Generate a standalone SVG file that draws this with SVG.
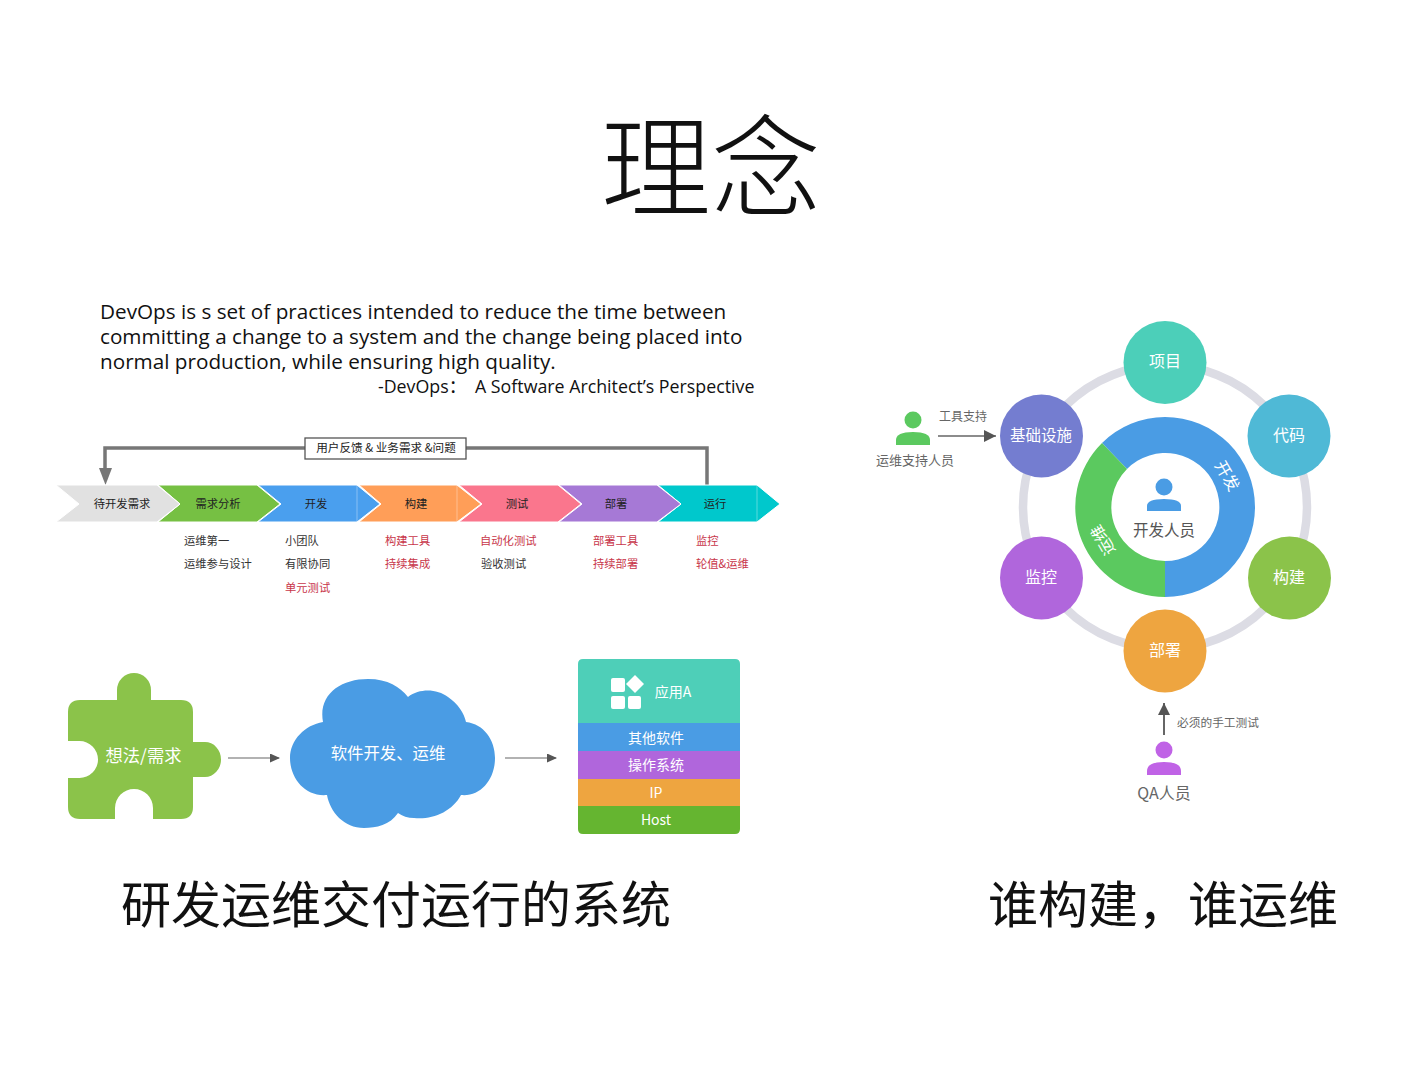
<svg xmlns="http://www.w3.org/2000/svg" width="1422" height="1067" viewBox="0 0 1422 1067">
<style>
text{font-family:"Noto Sans CJK SC","Noto Sans",sans-serif;text-anchor:middle}
.en{font-family:"Open Sans","Noto Sans CJK SC",sans-serif;text-anchor:start;font-size:20.7px;fill:#111}
.ttl{font-size:50px;fill:#111}
.lb{font-size:11.300px;fill:#222}
.s{font-size:11.300px;fill:#333;text-anchor:start}
.r{font-size:11.300px;fill:#c8364a;text-anchor:start}
.w{fill:#fff;font-size:16px}
.g{fill:#666;font-size:13px}
.conn{fill:none;stroke:#666;stroke-width:1.200}
.ch{stroke:#fff;stroke-width:1}
.tip{stroke:#fff;stroke-opacity:.35;stroke-width:1;fill:none}
</style>
<defs>
<marker id="ah" markerWidth="11" markerHeight="11" refX="9" refY="4.5" orient="auto" markerUnits="userSpaceOnUse"><path d="M0 0L10 4.500L0 9z" fill="#555"/></marker>
<marker id="ah2" markerWidth="13" markerHeight="13" refX="12" refY="6" orient="auto" markerUnits="userSpaceOnUse"><path d="M0 0L12 6L0 12z" fill="#555"/></marker>
</defs>
<rect width="1422" height="1067" fill="#fff"/>
<text x="711" y="208" font-size="110" fill="#111" style="font-weight:300">理念</text>
<g id="quote">
<text class="en" x="100" y="319">DevOps is s set of practices intended to reduce the time between</text>
<text class="en" x="100" y="344">committing a change to a system and the change being placed into</text>
<text class="en" x="100" y="369">normal production, while ensuring high quality.</text>
<text class="en" x="378" y="393" style="font-size:17.800px">-DevOps：<tspan x="475">A Software Architect’s Perspective</tspan></text>
</g>
<g id="feedback-connector">
<path d="M707 485V448H105V470" fill="none" stroke="#777" stroke-width="3.500"/>
<path d="M99 468H112L105.500 485z" fill="#777"/>
</g>
<g id="feedback"><rect x="305" y="438" width="161" height="21" fill="#fff" stroke="#555" stroke-width="1.300"/><text class="lb" x="386" y="452" style="font-size:11.600px">用户反馈 &amp; 业务需求 &amp;问题</text></g>
<g id="pipeline">
<path class="ch" d="M658 485H757L780 504L757 522H658L681 504z" fill="#00c8cc"/>
<path class="ch" d="M559 485H657L681 504L657 522H559L582 504z" fill="#a679d6"/>
<path class="ch" d="M459 485H558L581 504L558 522H459L482 504z" fill="#fa768d"/>
<path class="ch" d="M359 485H457L481 504L457 522H359L381 504z" fill="#ff9e58"/>
<path class="ch" d="M258 485H357L380 504L357 522H258L281 504z" fill="#4a9fee"/>
<path class="ch" d="M158 485H257L280 504L257 522H158L180 504z" fill="#76c043"/>
<path class="ch" d="M56 485H157L180 504L157 522H56L79 504z" fill="#e1e1e1"/>
<path class="tip" d="M357 485V522M457 485V522M757 485V522"/>
<text class="lb" x="122" y="508">待开发需求</text>
<text class="lb" x="218" y="508">需求分析</text>
<text class="lb" x="316" y="508">开发</text>
<text class="lb" x="416" y="508">构建</text>
<text class="lb" x="517" y="508">测试</text>
<text class="lb" x="616" y="508">部署</text>
<text class="lb" x="715" y="508">运行</text>
</g>
<g id="pipeline-notes">
<text class="s" x="184" y="545">运维第一</text><text class="s" x="184" y="568">运维参与设计</text>
<text class="s" x="285" y="545">小团队</text><text class="s" x="285" y="568">有限协同</text><text class="r" x="285" y="592">单元测试</text>
<text class="r" x="385" y="545">构建工具</text><text class="r" x="385" y="568">持续集成</text>
<text class="r" x="480" y="545">自动化测试</text><text class="s" x="481" y="568">验收测试</text>
<text class="r" x="593" y="545">部署工具</text><text class="r" x="593" y="568">持续部署</text>
<text class="r" x="696" y="545">监控</text><text class="r" x="696" y="568">轮值&amp;运维</text>
</g>
<g id="puzzle">
<path d="M80 700H117V690A17 17 0 0 1 151 690V700H181Q193 700 193 712V742H205A16 17.500 0 0 1 205 777H193V807Q193 819 181 819H153V808A19 19 0 0 0 115 808V819H80Q68 819 68 807V778H79.500A18.500 18.500 0 0 0 79.500 741H68V712Q68 700 80 700z" fill="#8bc34a"/>
<text class="w" x="143.500" y="762" style="font-size:17.300px">想法/需求</text>
</g>
<g id="cloud">
<path d="M323 722C318 695 340 679 368 679C388 679 400 687 408 697C420 688 437 689 448 697C458 704 464 713 466 722C484 724 495 740 495 758C495 780 480 797 461 795C452 812 432 820 414 818C408 818 402 816 398 813C390 825 376 828 364 828C344 828 330 812 327 795C305 797 290 778 290 758C290 740 305 725 323 722z" fill="#4a9ce4"/>
<text class="w" x="388" y="759" style="font-size:16.400px">软件开发、运维</text>
</g>
<g id="stack">
<path d="M578 723V664Q578 659 583 659H735Q740 659 740 664V723z" fill="#4ecfb8"/>
<rect x="578" y="723" width="162" height="28" fill="#4a9ce4"/>
<rect x="578" y="751" width="162" height="28" fill="#b066dc"/>
<rect x="578" y="779" width="162" height="27" fill="#eea540"/>
<path d="M578 806H740V829Q740 834 735 834H583Q578 834 578 829z" fill="#65b530"/>
<g fill="#fff"><rect x="611" y="678" width="14" height="14" rx="2"/><rect x="611" y="696" width="14" height="13" rx="2"/><rect x="628" y="696" width="13" height="13" rx="2"/><path d="M635 675L644 684L635 693L626 684z"/></g>
<text class="w" x="673" y="697" style="font-size:14px">应用A</text>
<text class="w" x="656" y="743" style="font-size:14px">其他软件</text>
<text class="w" x="656" y="770" style="font-size:14px">操作系统</text>
<text class="w" x="656" y="798" style="font-size:14px">IP</text>
<text class="w" x="656" y="825" style="font-size:14px">Host</text>
</g>
<g id="connectors">
<path class="conn" d="M228 758H279" marker-end="url(#ah)"/>
<path class="conn" d="M505 758H556" marker-end="url(#ah)"/>
<path class="conn" d="M938 436H996" style="stroke-width:1.500" marker-end="url(#ah2)"/>
<path class="conn" d="M1164 735V703" style="stroke-width:2" marker-end="url(#ah2)"/>
</g>
<text class="ttl" x="396" y="923">研发运维交付运行的系统</text>
<text class="ttl" x="1163" y="923">谁构建，谁运维</text>
<circle id="ring" cx="1165" cy="507" r="142" fill="none" stroke="#dcdce4" stroke-width="8.500"/>
<g id="donut">
<circle cx="1165" cy="507" r="72" fill="#fff"/>
<path d="M1165 417A90 90 0 1 1 1165 597V561A54 54 0 1 0 1127 469L1102 443A90 90 0 0 1 1165 417z" fill="#4a9ce4"/>
<path d="M1102 443L1127 469A54 54 0 0 0 1165 561V597A90 90 0 0 1 1102 443z" fill="#5bc95f"/>
<text class="w" transform="translate(1227 476) rotate(60)" y="5.500" style="font-size:16px">开发</text>
<text class="w" transform="translate(1103 540) rotate(-120)" y="5.500" style="font-size:16px">运维</text>
<circle cx="1164" cy="487" r="8.500" fill="#4a9ce4"/><path d="M1147 511V506Q1147 499 1164 499Q1181 499 1181 506V511z" fill="#4a9ce4"/>
<text x="1164" y="536" fill="#555" font-size="15.500">开发人员</text>
</g>
<g id="n-project"><circle cx="1165" cy="362.500" r="41.500" fill="#4ccfb9"/><text class="w" x="1165" y="367">项目</text></g>
<g id="n-code"><circle cx="1289" cy="436" r="41.500" fill="#4fb9d6"/><text class="w" x="1289" y="441">代码</text></g>
<g id="n-build"><circle cx="1289.500" cy="578" r="41.500" fill="#8bc34a"/><text class="w" x="1289" y="583">构建</text></g>
<g id="n-deploy"><circle cx="1165" cy="651" r="41.500" fill="#eea540"/><text class="w" x="1165" y="656">部署</text></g>
<g id="n-monitor"><circle cx="1041.500" cy="578" r="41.500" fill="#b066dc"/><text class="w" x="1041" y="583">监控</text></g>
<g id="n-infra"><circle cx="1041.500" cy="436" r="41.500" fill="#747dd0"/><text class="w" x="1041" y="441" style="font-size:15.500px">基础设施</text></g>
<g id="ops-person"><circle cx="913" cy="420" r="8.500" fill="#5bc95f"/><path d="M896 445V440Q896 432 913 432Q930 432 930 440V445z" fill="#5bc95f"/><text class="g" x="915" y="465">运维支持人员</text><text class="g" x="963" y="421" style="font-size:12px">工具支持</text></g>
<g id="qa-person"><circle cx="1164" cy="750" r="8.500" fill="#c063e6"/><path d="M1147 775V771Q1147 762 1164 762Q1181 762 1181 771V775z" fill="#c063e6"/><text class="g" x="1164" y="799" style="font-size:16px">QA人员</text><text class="g" x="1218" y="727" style="font-size:11.700px">必须的手工测试</text></g>
</svg>
